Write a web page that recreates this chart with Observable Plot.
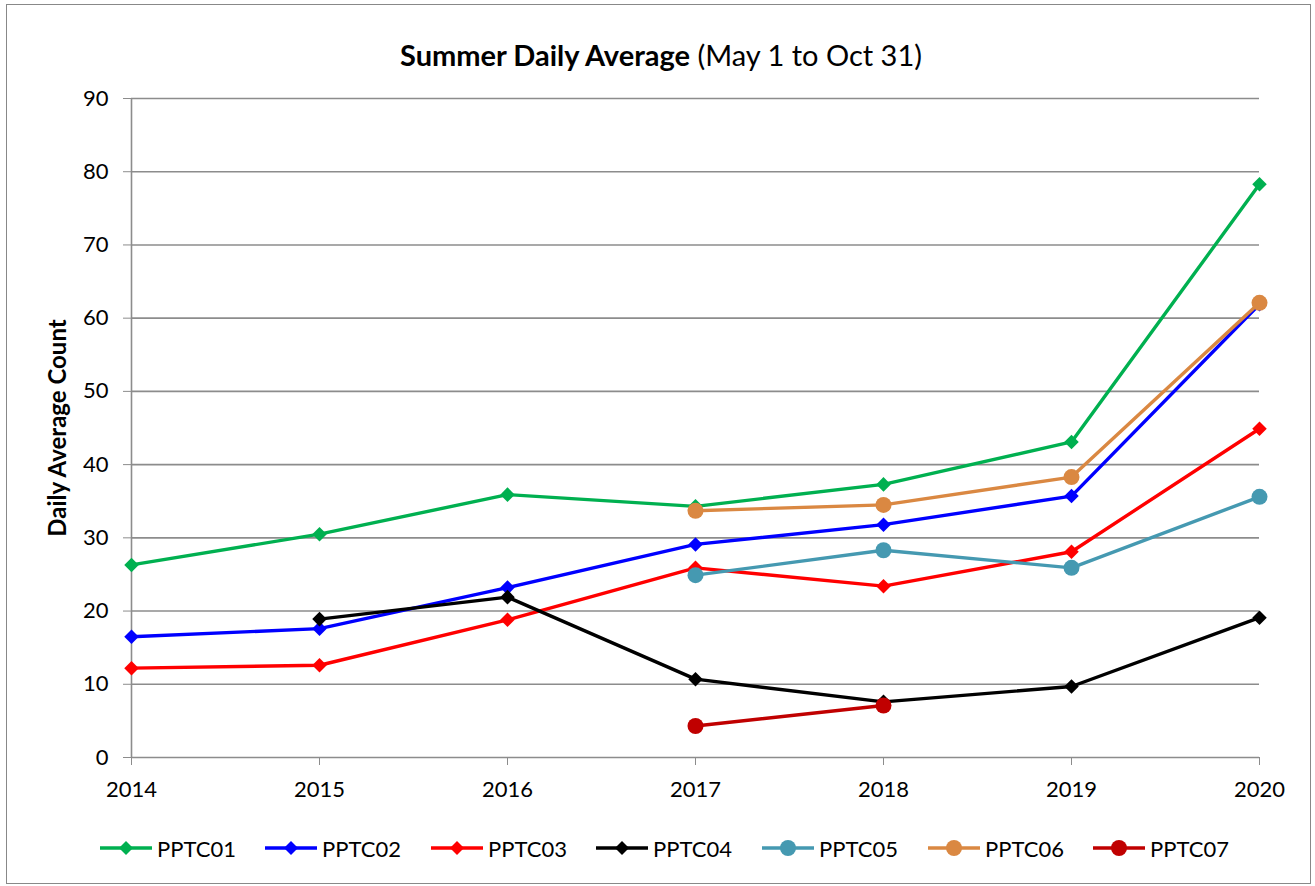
<!DOCTYPE html>
<html><head><meta charset="utf-8">
<script src="https://cdn.jsdelivr.net/npm/d3@7"></script>
<script src="https://cdn.jsdelivr.net/npm/@observablehq/plot@0.6"></script>
<style>
body{margin:0;background:#fff;font-family:Lato,"Open Sans",sans-serif;}
#frame{position:relative;width:1315px;height:886px;overflow:hidden;background:#fff}
#border{position:absolute;left:6px;top:4px;width:1305px;height:880px;border:1px solid #888;box-sizing:border-box;pointer-events:none}
#title{position:absolute;left:0;width:1322px;top:38px;text-align:center;font-size:29px;color:#000;line-height:34px}
#chart{position:absolute;left:0;top:80px}
#legend{position:absolute;left:0;top:833px;width:1315px;height:30px}
.item{position:absolute;top:0;display:flex;align-items:center;font-size:22px;color:#000;height:30px}
.item svg{margin-right:5px}
</style></head>
<body>
<div id="frame">
  <div id="title"><b>Summer Daily Average</b> (May 1 to Oct 31)</div>
  <div id="chart"></div>
  <div id="legend"></div>
  <div id="border"></div>
</div>
<script>
const years = [2014, 2015, 2016, 2017, 2018, 2019, 2020];
const seriesNames = ["PPTC01", "PPTC02", "PPTC03", "PPTC04", "PPTC05", "PPTC06", "PPTC07"];
const PPTC01 = [26.3, 30.5, 35.9, 34.3, 37.3, 43.1, 78.3];
const PPTC02 = [16.5, 17.6, 23.2, 29.1, 31.8, 35.7, 61.9];
const PPTC03 = [12.2, 12.6, 18.8, 25.9, 23.4, 28.1, 44.9];
const PPTC04 = [null, 18.9, 21.9, 10.7, 7.6, 9.7, 19.1];
const PPTC05 = [null, null, null, 24.9, 28.3, 25.9, 35.6];
const PPTC06 = [null, null, null, 33.7, 34.5, 38.3, 62.1];
const PPTC07 = [null, null, null, 4.3, 7.1, null, null];
const yTicks = [0, 10, 20, 30, 40, 50, 60, 70, 80, 90];
const yLabel = "Daily Average Count";

const seriesValues = [PPTC01, PPTC02, PPTC03, PPTC04, PPTC05, PPTC06, PPTC07];
const colors = ["#00B050", "#0000FF", "#FF0000", "#000000", "#4599B1", "#DA8842", "#C00000"];
const markers = ["diamond", "diamond", "diamond", "diamond", "circle", "circle", "circle"];

const diamond = {
  draw(ctx, size) {
    const r = Math.sqrt(size / 2);
    ctx.moveTo(0, -r); ctx.lineTo(r, 0); ctx.lineTo(0, r); ctx.lineTo(-r, 0); ctx.closePath();
  }
};

const marks = [];
marks.push(Plot.ruleY(yTicks, {stroke: "#8c8c8c", strokeWidth: 1.6}));
marks.push(Plot.ruleX([years[0]], {stroke: "#8c8c8c", strokeWidth: 1.6}));
marks.push(Plot.axisY({ticks: yTicks, tickSize: 8, tickPadding: 15, stroke: "#8c8c8c", fontSize: 22, label: null, tickFormat: d => d}));
marks.push(Plot.axisX({ticks: years, tickSize: 8, tickPadding: 16, stroke: "#8c8c8c", fontSize: 22, label: null, tickFormat: d => String(d)}));
marks.push(Plot.text([yLabel], {frameAnchor: "left", textAnchor: "middle", rotate: -90, dx: -73, fontWeight: "bold", fontSize: 24, fill: "#000"}));

seriesNames.forEach((name, i) => {
  const data = years.map((yr, j) => ({year: yr, value: seriesValues[i][j]})).filter(d => d.value != null);
  marks.push(Plot.line(data, {x: "year", y: "value", stroke: colors[i], strokeWidth: 3.4}));
  if (markers[i] === "diamond") {
    marks.push(Plot.dot(data, {x: "year", y: "value", fill: colors[i], stroke: "none", symbol: diamond, r: 5.8}));
  } else {
    marks.push(Plot.dot(data, {x: "year", y: "value", fill: colors[i], stroke: "none", r: 8}));
  }
});

const chart = Plot.plot({
  width: 1315,
  height: 735,
  marginLeft: 131,
  marginRight: 56,
  marginTop: 18,
  marginBottom: 58,
  style: {fontFamily: "Lato, 'Open Sans', sans-serif", color: "#000", background: "transparent", overflow: "visible"},
  x: {domain: [2014, 2020], type: "linear"},
  y: {domain: [0, 90]},
  marks
});
document.getElementById("chart").appendChild(chart);

const legend = document.getElementById("legend");
const legendX = [100, 265, 431, 596, 762, 928, 1093];
seriesNames.forEach((name, i) => {
  const item = document.createElement("div");
  item.className = "item";
  item.style.left = legendX[i] + "px";
  const marker = markers[i] === "diamond"
    ? `<path d="M26,8 L33,15 L26,22 L19,15 Z" fill="${colors[i]}"/>`
    : `<circle cx="26" cy="15" r="8" fill="${colors[i]}"/>`;
  item.innerHTML = `<svg width="52" height="30"><line x1="0" x2="52" y1="15" y2="15" stroke="${colors[i]}" stroke-width="3.4"/>${marker}</svg><span>${name}</span>`;
  legend.appendChild(item);
});
</script>
</body></html>
